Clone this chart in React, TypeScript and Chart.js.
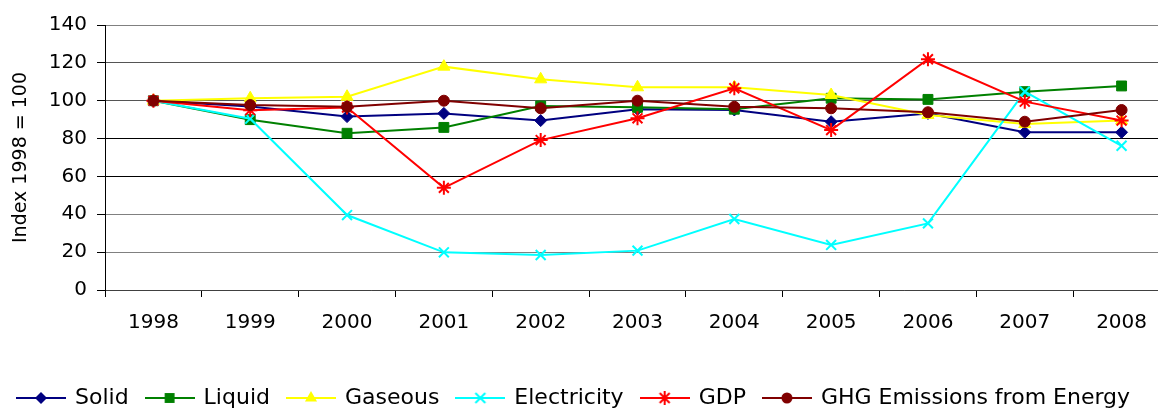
import React, { useEffect, useRef } from "react";
import { Chart, registerables } from "chart.js";

Chart.register(...registerables);

const years = ["1998", "1999", "2000", "2001", "2002", "2003", "2004", "2005", "2006", "2007", "2008"];
const yTickValues = [0, 20, 40, 60, 80, 100, 120, 140];

const solid = [100, 97, 91.6, 93.3, 89.5, 95.5, 95.1, 88.9, 93.3, 83.3, 83.3];
const liquid = [100, 90, 82.8, 85.9, 97.2, 96.5, 95.5, 101.3, 100.7, 104.8, 107.8];
const gaseous = [100, 101.3, 102.1, 118, 111.3, 107.1, 107.1, 103, 92.5, 87.7, 89.5];
const electricity = [100, 90.5, 39.6, 19.9, 18.5, 20.8, 37.5, 23.8, 35.2, 104.8, 76.2];
const gdp = [100, 95, 96.4, 54, 79.2, 90.7, 106.6, 84.5, 121.9, 99.5, 89.5];
const ghg = [100, 97.7, 96.8, 100, 96, 100, 96.8, 96, 93.9, 88.9, 95.1];

const seriesNames = ["Solid", "Liquid", "Gaseous", "Electricity", "GDP", "GHG Emissions from Energy"];
const seriesValues = [solid, liquid, gaseous, electricity, gdp, ghg];
const seriesColors = ["#000080", "#008000", "#FFFF00", "#00FFFF", "#FF0000", "#800000"];
const seriesMarkers = ["rectRot", "rect", "triangle", "crossRot", "star", "circle"];
const markerRadius: Record<string, number> = {
  rectRot: 6,
  rect: 7,
  triangle: 7,
  crossRot: 7,
  star: 7,
  circle: 5.5,
};

const FONT = "'DejaVu Sans', sans-serif";
const W = 1179;
const H = 419;

function drawMarker(g: CanvasRenderingContext2D, marker: string, x: number, y: number, color: string) {
  const r = markerRadius[marker];
  g.fillStyle = color;
  g.strokeStyle = color;
  g.lineWidth = 2;
  g.beginPath();
  switch (marker) {
    case "rectRot":
      g.moveTo(x, y - r);
      g.lineTo(x + r, y);
      g.lineTo(x, y + r);
      g.lineTo(x - r, y);
      g.closePath();
      g.fill();
      break;
    case "rect": {
      const s = r * Math.SQRT1_2;
      g.rect(x - s, y - s, 2 * s, 2 * s);
      g.fill();
      break;
    }
    case "triangle": {
      for (let k = 0; k < 3; k++) {
        const a = (k * 2 * Math.PI) / 3;
        const px = x + Math.sin(a) * r;
        const py = y - Math.cos(a) * r;
        if (k === 0) g.moveTo(px, py);
        else g.lineTo(px, py);
      }
      g.closePath();
      g.fill();
      break;
    }
    case "crossRot": {
      const d = r * Math.SQRT1_2;
      g.moveTo(x - d, y - d);
      g.lineTo(x + d, y + d);
      g.moveTo(x + d, y - d);
      g.lineTo(x - d, y + d);
      g.stroke();
      break;
    }
    case "star": {
      const d = r * Math.SQRT1_2;
      g.moveTo(x - d, y - d);
      g.lineTo(x + d, y + d);
      g.moveTo(x + d, y - d);
      g.lineTo(x - d, y + d);
      g.moveTo(x, y - r);
      g.lineTo(x, y + r);
      g.moveTo(x - r, y);
      g.lineTo(x + r, y);
      g.stroke();
      break;
    }
    default:
      g.arc(x, y, r, 0, Math.PI * 2);
      g.fill();
  }
}

function makeLegendImage(color: string, marker: string): HTMLCanvasElement {
  const c = document.createElement("canvas");
  c.width = 50;
  c.height = 18;
  const g = c.getContext("2d")!;
  g.strokeStyle = color;
  g.lineWidth = 2;
  g.beginPath();
  g.moveTo(0, 9);
  g.lineTo(50, 9);
  g.stroke();
  drawMarker(g, marker, 25, 9, color);
  return c;
}

const gridColorFor = (v: number) => {
  if (v === 80 || v === 60) return "#000000";
  if (v === 120 || v === 100) return "#555555";
  return "#808080";
};

export default function App() {
  const ref = useRef<HTMLCanvasElement>(null);

  useEffect(() => {
    document.body.style.overflow = "hidden";
    Chart.defaults.color = "#000";
    Chart.defaults.font.family = FONT;

    const images = seriesColors.map((c, i) => makeLegendImage(c, seriesMarkers[i]));

    const datasets = seriesNames.map((name, i) => ({
      label: name,
      data: seriesValues[i],
      borderColor: seriesColors[i],
      backgroundColor: seriesColors[i],
      borderWidth: 2,
      pointStyle: seriesMarkers[i] as any,
      pointRadius: markerRadius[seriesMarkers[i]],
      pointHoverRadius: markerRadius[seriesMarkers[i]],
      pointBorderColor: seriesColors[i],
      pointBackgroundColor: seriesColors[i],
      pointBorderWidth: seriesMarkers[i] === "crossRot" || seriesMarkers[i] === "star" ? 2 : 1,
      tension: 0,
      fill: false,
      order: seriesNames.length - 1 - i,
    }));

    const chart = new Chart(ref.current!, {
      type: "line",
      data: { labels: years, datasets },
      options: {
        responsive: false,
        animation: false,
        events: [],
        layout: { padding: { top: 25, right: 0, bottom: 0, left: 0 } },
        plugins: {
          tooltip: { enabled: false },
          legend: {
            position: "bottom",
            align: "start",
            labels: {
              usePointStyle: true,
              pointStyleWidth: 46,
              padding: 18,
              color: "#000",
              font: { family: FONT, size: 22 },
              generateLabels: () =>
                seriesNames.map((name, i) => ({
                  text: name,
                  fillStyle: seriesColors[i],
                  strokeStyle: seriesColors[i],
                  lineWidth: 0,
                  pointStyle: images[i] as any,
                  hidden: false,
                  datasetIndex: i,
                  fontColor: "#000",
                })),
            },
          },
        },
        scales: {
          x: {
            type: "category",
            offset: true,
            afterFit: (s: any) => {
              s.height = 79;
              s.paddingLeft = 0;
              s.paddingRight = 0;
            },
            grid: {
              display: true,
              drawOnChartArea: false,
              drawTicks: true,
              tickLength: 7,
              tickColor: "#000",
              offset: true,
            },
            border: { display: true, color: "#404040", width: 1 },
            ticks: {
              padding: 14,
              color: "#000",
              font: { family: FONT, size: 20 },
              maxRotation: 0,
              autoSkip: false,
            },
          },
          y: {
            min: 0,
            max: 140,
            afterFit: (s: any) => {
              s.width = 105;
              s.paddingTop = 0;
              s.paddingBottom = 0;
            },
            afterBuildTicks: (s: any) => {
              s.ticks = yTickValues.map((v) => ({ value: v }));
            },
            grid: {
              color: (ctx: any) => gridColorFor(ctx.tick ? ctx.tick.value : 0),
              lineWidth: 1,
              drawTicks: true,
              tickLength: 8,
              tickColor: "#000",
            },
            border: { display: true, color: "#000", width: 1 },
            ticks: {
              padding: 10,
              color: "#000",
              font: { family: FONT, size: 20 },
            },
            title: {
              display: true,
              text: "Index 1998 = 100",
              color: "#000",
              font: { family: FONT, size: 19 },
              padding: { top: 10, bottom: 0 },
            },
          },
        },
      },
    });
    return () => chart.destroy();
  }, []);

  return (
    <div style={{ position: "fixed", left: 0, top: 0, width: W, height: H, background: "#fff" }}>
      <canvas ref={ref} width={W} height={H} style={{ width: W, height: H, display: "block" }} />
    </div>
  );
}
